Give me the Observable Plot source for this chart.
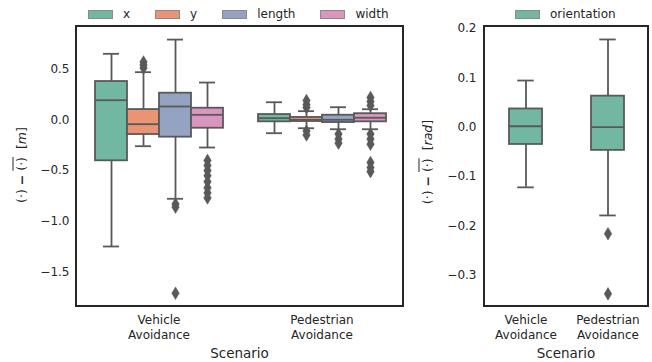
<!DOCTYPE html>
<html>
<head>
<meta charset="utf-8">
<script src="https://cdn.jsdelivr.net/npm/d3@7"></script>
<script src="https://cdn.jsdelivr.net/npm/@observablehq/plot@0.6"></script>
<style>
  html, body { margin: 0; padding: 0; background: #fff; }
  #wrap { position: relative; width: 652px; height: 362px; font-family: "DejaVu Sans", sans-serif; color: #262626; overflow: hidden; }
  .frame { position: absolute; box-sizing: border-box; border: 2px solid #262626; pointer-events: none; }
  .legend { position: absolute; display: flex; align-items: center; font-size: 12px; white-space: nowrap; }
  .legend .item { display: flex; align-items: center; margin-right: 25px; }
  .legend .sw { width: 23px; height: 7px; border: 1px solid #8a8a8a; margin-right: 10px; }
  .ylab { position: absolute; transform: translate(-50%, -50%) rotate(-90deg); white-space: nowrap; font-size: 12.5px; }
  .ylab b { font-weight: bold; }
  .xlab { position: absolute; transform: translate(-50%, -50%); font-size: 13.5px; white-space: nowrap; }
</style>
</head>
<body>
<div id="wrap"></div>
<script>
// ---------- data ----------
const scenarios = ["Vehicle Avoidance", "Pedestrian Avoidance"];
const variables = ["x", "y", "length", "width"];
const colors = ["#71b7a1", "#e99575", "#95a3c3", "#db96c0"];
const gray = "#595959";

// position statistics: rows = scenario, columns = variable
const posLo  = [[-1.248, -0.26, -0.778, -0.273], [-0.132, -0.083, -0.093, -0.093]];
const posQ1  = [[-0.404, -0.145, -0.171, -0.083], [-0.02, -0.017, -0.027, -0.02]];
const posMed = [[0.193, -0.043, 0.131, 0.049], [0.016, 0.0, 0.0, 0.02]];
const posQ3  = [[0.377, 0.101, 0.262, 0.114], [0.052, 0.023, 0.045, 0.06]];
const posHi  = [[0.65, 0.469, 0.79, 0.367], [0.173, 0.085, 0.124, 0.104]];
const posOut = [
  [[], [0.51, 0.54, 0.57], [-0.83, -0.86, -1.708], [-0.40, -0.45, -0.50, -0.55, -0.61, -0.67, -0.72, -0.77]],
  [[], [0.12, 0.15, 0.19, -0.11, -0.15], [-0.14, -0.19, -0.23], [0.14, 0.18, 0.22, -0.14, -0.19, -0.24, -0.42, -0.47, -0.51]]
];

// orientation statistics: one per scenario
const oriLo  = [-0.122, -0.179];
const oriQ1  = [-0.035, -0.047];
const oriMed = [0.002, 0.0];
const oriQ3  = [0.037, 0.063];
const oriHi  = [0.0947, 0.178];
const oriOut = [[], [-0.216, -0.338]];

const posTicks = [0.5, 0.0, -0.5, -1.0, -1.5];
const oriTicks = [0.2, 0.1, 0.0, -0.1, -0.2, -0.3];

// ---------- tables ----------
const posStats = [];
const posOutliers = [];
scenarios.forEach((s, i) => variables.forEach((v, j) => {
  posStats.push({scenario: s, variable: v, lo: posLo[i][j], q1: posQ1[i][j], med: posMed[i][j], q3: posQ3[i][j], hi: posHi[i][j]});
  posOut[i][j].forEach(value => posOutliers.push({scenario: s, variable: v, value}));
}));
const oriStats = scenarios.map((s, i) => ({scenario: s, lo: oriLo[i], q1: oriQ1[i], med: oriMed[i], q3: oriQ3[i], hi: oriHi[i]}));
const oriOutliers = [];
scenarios.forEach((s, i) => oriOut[i].forEach(value => oriOutliers.push({scenario: s, value})));

const thinDiamond = {
  draw(ctx, size) {
    const r = Math.sqrt(size / Math.PI);
    const h = r, w = r * 0.6;
    ctx.moveTo(0, -h); ctx.lineTo(w, 0); ctx.lineTo(0, h); ctx.lineTo(-w, 0); ctx.closePath();
  }
};

const lw = 1.8;
const baseStyle = {fontFamily: "DejaVu Sans", fontSize: "12px", color: "#262626", background: "transparent", overflow: "visible"};
const splitLabel = d => d.replace(" ", "\n");

// ---------- left panel ----------
const left = Plot.plot({
  width: 410, height: 362,
  marginLeft: 76, marginRight: 7, marginTop: 26, marginBottom: 56,
  style: baseStyle,
  fx: {domain: scenarios, padding: 0, axis: null},
  x: {domain: variables, paddingInner: 0, paddingOuter: 0.5, axis: null},
  y: {domain: [-1.839, 0.919], ticks: posTicks, tickFormat: d3.format(".1f"), tickSize: 0, tickPadding: 8, label: null},
  color: {domain: variables, range: colors},
  marks: [
    Plot.ruleX(posStats, {fx: "scenario", x: "variable", y1: "q3", y2: "hi", stroke: gray, strokeWidth: lw}),
    Plot.ruleX(posStats, {fx: "scenario", x: "variable", y1: "lo", y2: "q1", stroke: gray, strokeWidth: lw}),
    Plot.tickY(posStats, {fx: "scenario", x: "variable", y: "hi", stroke: gray, strokeWidth: lw, insetLeft: 8, insetRight: 8}),
    Plot.tickY(posStats, {fx: "scenario", x: "variable", y: "lo", stroke: gray, strokeWidth: lw, insetLeft: 8, insetRight: 8}),
    Plot.barY(posStats, {fx: "scenario", x: "variable", y1: "q1", y2: "q3", fill: "variable", stroke: gray, strokeWidth: lw}),
    Plot.tickY(posStats, {fx: "scenario", x: "variable", y: "med", stroke: gray, strokeWidth: lw}),
    Plot.dot(posOutliers, {fx: "scenario", x: "variable", y: "value", symbol: thinDiamond, r: 6.3, fill: gray, stroke: gray, strokeWidth: 0.5}),
    Plot.text(scenarios, {fx: d => d, text: splitLabel, frameAnchor: "bottom", lineAnchor: "top", dy: 8, lineHeight: 1.17, fontSize: 12, fill: "#262626"})
  ]
});

// ---------- right panel ----------
const right = Plot.plot({
  width: 242, height: 362,
  marginLeft: 74, marginRight: 4, marginTop: 26, marginBottom: 56,
  style: baseStyle,
  x: {domain: scenarios, paddingInner: 0.6, paddingOuter: 0.3, axis: null},
  y: {domain: [-0.3637, 0.2043], ticks: oriTicks, tickFormat: d3.format(".1f"), tickSize: 0, tickPadding: 8, label: null},
  marks: [
    Plot.ruleX(oriStats, {x: "scenario", y1: "q3", y2: "hi", stroke: gray, strokeWidth: lw}),
    Plot.ruleX(oriStats, {x: "scenario", y1: "lo", y2: "q1", stroke: gray, strokeWidth: lw}),
    Plot.tickY(oriStats, {x: "scenario", y: "hi", stroke: gray, strokeWidth: lw, insetLeft: 8.25, insetRight: 8.25}),
    Plot.tickY(oriStats, {x: "scenario", y: "lo", stroke: gray, strokeWidth: lw, insetLeft: 8.25, insetRight: 8.25}),
    Plot.barY(oriStats, {x: "scenario", y1: "q1", y2: "q3", fill: colors[0], stroke: gray, strokeWidth: lw}),
    Plot.tickY(oriStats, {x: "scenario", y: "med", stroke: gray, strokeWidth: lw}),
    Plot.dot(oriOutliers, {x: "scenario", y: "value", symbol: thinDiamond, r: 6.3, fill: gray, stroke: gray, strokeWidth: 0.5}),
    Plot.text(scenarios, {x: d => d, text: splitLabel, frameAnchor: "bottom", lineAnchor: "top", dy: 8, lineHeight: 1.17, fontSize: 12, fill: "#262626"})
  ]
});

// ---------- assemble ----------
const wrap = document.getElementById("wrap");
left.style.position = "absolute"; left.style.left = "0px"; left.style.top = "0px";
right.style.position = "absolute"; right.style.left = "410px"; right.style.top = "0px";
wrap.appendChild(left);
wrap.appendChild(right);

function addDiv(cls, styles, html) {
  const d = document.createElement("div");
  d.className = cls;
  Object.assign(d.style, styles);
  if (html != null) d.innerHTML = html;
  wrap.appendChild(d);
  return d;
}

// frames
addDiv("frame", {left: "75px", top: "25px", width: "329px", height: "282px"});
addDiv("frame", {left: "483px", top: "25px", width: "166px", height: "282px"});

// legends
function legend(x, y, names, cols) {
  const l = addDiv("legend", {left: x + "px", top: y + "px"});
  names.forEach((n, i) => {
    const it = document.createElement("div"); it.className = "item";
    const sw = document.createElement("div"); sw.className = "sw"; sw.style.background = cols[i];
    const t = document.createElement("span"); t.textContent = n;
    it.appendChild(sw); it.appendChild(t); l.appendChild(it);
  });
}
legend(88, 7, variables, colors);
legend(515, 7, ["orientation"], [colors[0]]);

// axis titles
addDiv("ylab", {left: "21px", top: "165px"}, '(·) <b>−</b> <span style="text-decoration:overline">(·)</span>&nbsp; [<i>m</i>]');
addDiv("ylab", {left: "427px", top: "162px"}, '(·) <b>−</b> <span style="text-decoration:overline">(·)</span>&nbsp; [<i>rad</i>]');
addDiv("xlab", {left: "239.5px", top: "352.5px"}, "Scenario");
addDiv("xlab", {left: "566px", top: "352.5px"}, "Scenario");
</script>
</body>
</html>
